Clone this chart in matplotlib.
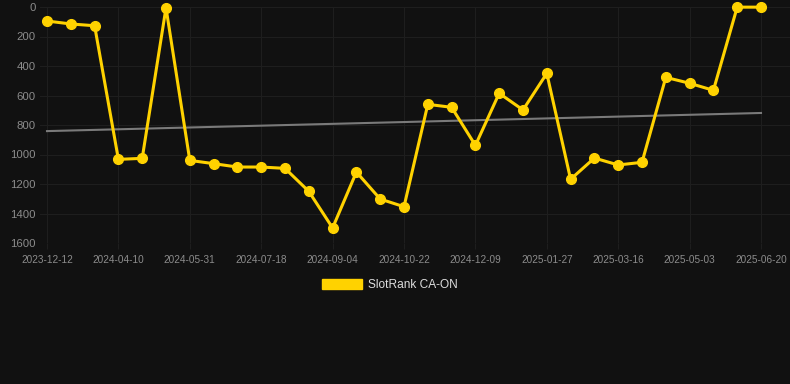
import numpy as np
import matplotlib
matplotlib.use('Agg')
import matplotlib.pyplot as plt
import matplotlib.patches as mpatches

BG     = '#111111'
GRID   = '#1e1e1e'
YELLOW = '#FFD200'
TREND  = '#7a7a7a'
TICKC  = '#8c8c8c'

plt.rcParams.update({
    'font.family': ['Liberation Sans', 'DejaVu Sans'],
    'figure.facecolor': BG,
    'axes.facecolor': BG,
})

# ── Data ───────────────────────────────────────────────────────────
dates = ['2023-12-12', '2024-01-18', '2024-02-27', '2024-04-10', '2024-04-27',
         '2024-05-14', '2024-05-31', '2024-06-16', '2024-07-02', '2024-07-18',
         '2024-08-05', '2024-08-20', '2024-09-04', '2024-09-20', '2024-10-06',
         '2024-10-22', '2024-11-07', '2024-11-23', '2024-12-09', '2024-12-25',
         '2025-01-11', '2025-01-27', '2025-02-12', '2025-02-28', '2025-03-16',
         '2025-04-01', '2025-04-17', '2025-05-03', '2025-05-19', '2025-06-04',
         '2025-06-20']
rank = [95, 115, 127, 1033, 1026, 5, 1040, 1062, 1085, 1085,
        1094, 1250, 1498, 1119, 1302, 1354, 660, 680, 938, 585,
        698, 450, 1168, 1024, 1071, 1053, 477, 517, 565, 1,
        1]
series_label = 'SlotRank CA-ON'
y_ticks = [0, 200, 400, 600, 800, 1000, 1200, 1400, 1600]

x = np.arange(len(dates))
trend = np.poly1d(np.polyfit(x, rank, 1))

# ── Plot ───────────────────────────────────────────────────────────
fig = plt.figure(figsize=(7.9, 3.84), dpi=100)
ax = fig.add_axes([40 / 790, 1 - 243 / 384, 750 / 790, 236 / 384])

ax.plot(x, trend(x), color=TREND, linewidth=1.5, zorder=2)
ax.plot(x, rank, color=YELLOW, linewidth=2.2, marker='o', markersize=7,
        clip_on=False, zorder=3)

ax.set_xlim(-7 / 23.8, 30 + 29 / 23.8)
ax.set_ylim(1600, 0)
ax.set_yticks(y_ticks)
ax.set_yticklabels([str(v) for v in y_ticks])
ax.set_xticks(x[::3])
ax.set_xticklabels(dates[::3])

ax.grid(True, color=GRID, linewidth=0.8)
ax.set_axisbelow(True)
for s in ax.spines.values():
    s.set_visible(False)
ax.tick_params(axis='x', colors=TICKC, labelsize=7.2, length=4, width=0.8,
               color=GRID, pad=4.5)
ax.tick_params(axis='y', colors=TICKC, labelsize=8.2, length=0, pad=3)

handle = mpatches.Patch(color=YELLOW, label=series_label)
fig.legend(handles=[handle], loc='center', bbox_to_anchor=(390 / 790, 1 - 285 / 384),
           frameon=False, fontsize=8.6, labelcolor='#dddddd',
           handlelength=3.3, handleheight=0.85, handletextpad=0.55)

fig.savefig('out.png', dpi=100, facecolor=BG)
